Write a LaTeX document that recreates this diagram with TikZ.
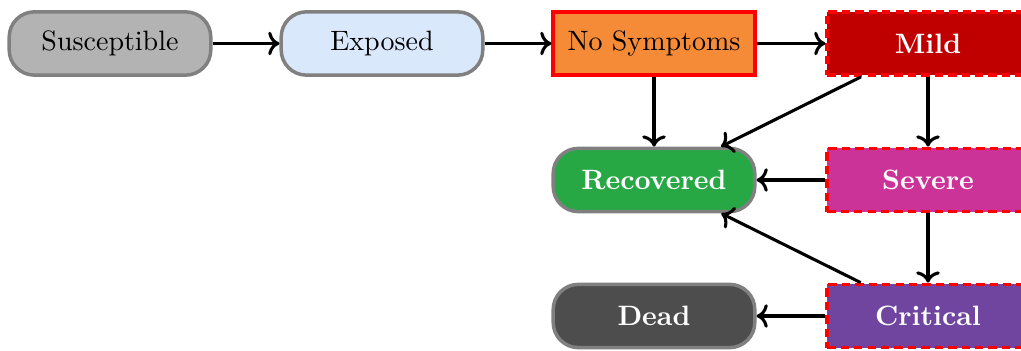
\documentclass[tikz,border=0pt]{standalone}
\usetikzlibrary{arrows.meta}
\definecolor{suscol}{HTML}{B3B3B3}
\definecolor{expcol}{HTML}{DAE8FC}
\definecolor{nscol}{HTML}{F68B37}
\definecolor{mildcol}{HTML}{C00000}
\definecolor{sevcol}{HTML}{CC3399}
\definecolor{critcol}{HTML}{7045A0}
\definecolor{reccol}{HTML}{28A745}
\definecolor{deadcol}{HTML}{4D4D4D}
\definecolor{edgegray}{HTML}{808080}
\begin{document}
\begin{tikzpicture}[x=0.3571pt,y=-0.3571pt,
  basebox/.style={minimum width=72pt,minimum height=22.6pt,line width=1.25pt,inner sep=2pt},
  roundbox/.style={basebox,draw=edgegray,rounded corners=9pt},
  solidbox/.style={basebox,draw=red},
  dashbox/.style={basebox,draw=red,dash pattern=on 3pt off 1.8pt,text=white,font=\bfseries},
  whitetext/.style={text=white,font=\bfseries},
  arr/.style={->,line width=1.1pt,black}]
\useasboundingbox (0,0) rectangle (1021,351);
\node[roundbox,fill=suscol] (sus) at (110,43.5) {Susceptible};
\node[roundbox,fill=expcol] (exp) at (382,43.5) {Exposed};
\node[solidbox,fill=nscol] (ns) at (654,43.5) {No Symptoms};
\node[dashbox,fill=mildcol] (mild) at (928,43.5) {Mild};
\node[roundbox,fill=reccol,whitetext] (rec) at (654,180) {Recovered};
\node[dashbox,fill=sevcol] (sev) at (928,180) {Severe};
\node[roundbox,fill=deadcol,whitetext] (dead) at (654,316) {Dead};
\node[dashbox,fill=critcol] (crit) at (928,316) {Critical};
\draw[arr] (sus) -- (exp);
\draw[arr] (exp) -- (ns);
\draw[arr] (ns) -- (mild);
\draw[arr] (ns) -- (rec);
\draw[arr] (mild) -- (rec);
\draw[arr] (mild) -- (sev);
\draw[arr] (sev) -- (rec);
\draw[arr] (sev) -- (crit);
\draw[arr] (crit) -- (rec);
\draw[arr] (crit) -- (dead);
\end{tikzpicture}
\end{document}
